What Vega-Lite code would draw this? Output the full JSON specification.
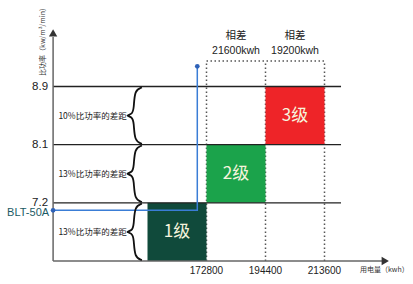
{
  "$schema": "https://vega.github.io/schema/vega-lite/v6.json",
  "width": 413,
  "height": 284,
  "autosize": {"type": "fit", "contains": "padding"},
  "padding": 0,
  "background": "white",
  "config": {"view": {"stroke": null}},
  "datasets": {
    "bars": [
      {"level": "1级", "x0": 1, "x1": 2, "y0": 0, "y1": 1, "xc": 1.5, "yc": 0.5},
      {"level": "2级", "x0": 2, "x1": 3, "y0": 1, "y1": 2, "xc": 2.5, "yc": 1.5},
      {"level": "3级", "x0": 3, "x1": 4, "y0": 2, "y1": 3, "xc": 3.5, "yc": 2.5}
    ],
    "yticks": [
      {"pos": 1, "label": "7.2"},
      {"pos": 2, "label": "8.1"},
      {"pos": 3, "label": "8.9"}
    ],
    "xticks": [
      {"pos": 2, "label": "172800"},
      {"pos": 3, "label": "194400"},
      {"pos": 4, "label": "213600"}
    ],
    "gaps": [
      {"pos": 0.5, "label": "13%比功率的差距"},
      {"pos": 1.5, "label": "13%比功率的差距"},
      {"pos": 2.5, "label": "10%比功率的差距"}
    ],
    "diffs": [
      {"pos": 2.5, "lines": ["相差", "21600kwh"]},
      {"pos": 3.5, "lines": ["相差", "19200kwh"]}
    ],
    "blt": [
      {"i": 0, "x": -0.6, "y": 0.872},
      {"i": 1, "x": 1.844, "y": 0.872},
      {"i": 2, "x": 1.844, "y": 3.347}
    ],
    "bltdots": [
      {"x": -0.6, "y": 0.872},
      {"x": 1.844, "y": 3.347}
    ],
    "braces": [
      {"b": 0, "i": 0, "x": 0.905, "y": 0.985},
      {"b": 0, "i": 1, "x": 0.78, "y": 0.94},
      {"b": 0, "i": 2, "x": 0.77, "y": 0.62},
      {"b": 0, "i": 3, "x": 0.74, "y": 0.52},
      {"b": 0, "i": 4, "x": 0.62, "y": 0.5},
      {"b": 0, "i": 5, "x": 0.74, "y": 0.48},
      {"b": 0, "i": 6, "x": 0.77, "y": 0.38},
      {"b": 0, "i": 7, "x": 0.78, "y": 0.06},
      {"b": 0, "i": 8, "x": 0.905, "y": 0.015},
      {"b": 1, "i": 0, "x": 0.905, "y": 1.985},
      {"b": 1, "i": 1, "x": 0.78, "y": 1.94},
      {"b": 1, "i": 2, "x": 0.77, "y": 1.62},
      {"b": 1, "i": 3, "x": 0.74, "y": 1.52},
      {"b": 1, "i": 4, "x": 0.62, "y": 1.5},
      {"b": 1, "i": 5, "x": 0.74, "y": 1.48},
      {"b": 1, "i": 6, "x": 0.77, "y": 1.38},
      {"b": 1, "i": 7, "x": 0.78, "y": 1.06},
      {"b": 1, "i": 8, "x": 0.905, "y": 1.015},
      {"b": 2, "i": 0, "x": 0.905, "y": 2.985},
      {"b": 2, "i": 1, "x": 0.78, "y": 2.94},
      {"b": 2, "i": 2, "x": 0.77, "y": 2.62},
      {"b": 2, "i": 3, "x": 0.74, "y": 2.52},
      {"b": 2, "i": 4, "x": 0.62, "y": 2.5},
      {"b": 2, "i": 5, "x": 0.74, "y": 2.48},
      {"b": 2, "i": 6, "x": 0.77, "y": 2.38},
      {"b": 2, "i": 7, "x": 0.78, "y": 2.06},
      {"b": 2, "i": 8, "x": 0.905, "y": 2.015}
    ],
    "one": [{}]
  },
  "layer": [
    {
      "data": {"name": "xticks"},
      "mark": {"type": "rule", "color": "#555555", "strokeWidth": 1.5, "strokeDash": [1.5, 2.5]},
      "encoding": {
        "x": {"field": "pos", "type": "quantitative", "scale": {"domain": [-1.5, 5.5], "nice": false, "zero": false}, "axis": null},
        "y": {"datum": 0, "type": "quantitative", "scale": {"domain": [-0.395, 4.487], "nice": false, "zero": false}, "axis": null},
        "y2": {"datum": 3.44}
      }
    },
    {
      "data": {"name": "one"},
      "mark": {"type": "rule", "color": "#555555", "strokeWidth": 1.5, "strokeDash": [1.5, 2.5]},
      "encoding": {
        "x": {"datum": 2, "type": "quantitative", "scale": {"domain": [-1.5, 5.5], "nice": false, "zero": false}, "axis": null},
        "x2": {"datum": 4},
        "y": {"datum": 3.44, "type": "quantitative", "scale": {"domain": [-0.395, 4.487], "nice": false, "zero": false}, "axis": null}
      }
    },
    {
      "data": {"name": "bars"},
      "mark": {"type": "rect"},
      "encoding": {
        "x": {"field": "x0", "type": "quantitative", "scale": {"domain": [-1.5, 5.5], "nice": false, "zero": false}, "axis": null},
        "x2": {"field": "x1"},
        "y": {"field": "y0", "type": "quantitative", "scale": {"domain": [-0.395, 4.487], "nice": false, "zero": false}, "axis": null},
        "y2": {"field": "y1"},
        "color": {"field": "level", "type": "nominal", "scale": {"domain": ["1级", "2级", "3级"], "range": ["#104a3b", "#1ba34b", "#ee2428"]}, "legend": null}
      }
    },
    {
      "data": {"name": "bars"},
      "mark": {"type": "text", "color": "#f6f4de", "fontSize": 17, "font": "Noto Sans CJK SC", "align": "center", "baseline": "middle"},
      "encoding": {
        "x": {"field": "xc", "type": "quantitative", "scale": {"domain": [-1.5, 5.5], "nice": false, "zero": false}, "axis": null},
        "y": {"field": "yc", "type": "quantitative", "scale": {"domain": [-0.395, 4.487], "nice": false, "zero": false}, "axis": null},
        "text": {"field": "level"}
      }
    },
    {
      "data": {"name": "yticks"},
      "mark": {"type": "rule", "color": "#222222", "strokeWidth": 1.3},
      "encoding": {
        "x": {"datum": -0.6, "type": "quantitative", "scale": {"domain": [-1.5, 5.5], "nice": false, "zero": false}, "axis": null},
        "x2": {"datum": 4.28},
        "y": {"field": "pos", "type": "quantitative", "scale": {"domain": [-0.395, 4.487], "nice": false, "zero": false}, "axis": null}
      }
    },
    {
      "data": {"name": "one"},
      "mark": {"type": "rule", "color": "#666666", "strokeWidth": 1.5},
      "encoding": {
        "x": {"datum": -0.6, "type": "quantitative", "scale": {"domain": [-1.5, 5.5], "nice": false, "zero": false}, "axis": null},
        "y": {"datum": 0, "type": "quantitative", "scale": {"domain": [-0.395, 4.487], "nice": false, "zero": false}, "axis": null},
        "y2": {"datum": 3.85}
      }
    },
    {
      "data": {"name": "one"},
      "mark": {"type": "rule", "color": "#666666", "strokeWidth": 1.5},
      "encoding": {
        "x": {"datum": -0.6, "type": "quantitative", "scale": {"domain": [-1.5, 5.5], "nice": false, "zero": false}, "axis": null},
        "x2": {"datum": 4.98},
        "y": {"datum": 0, "type": "quantitative", "scale": {"domain": [-0.395, 4.487], "nice": false, "zero": false}, "axis": null}
      }
    },
    {
      "data": {"name": "one"},
      "mark": {"type": "point", "shape": "triangle-up", "filled": true, "color": "#333333", "size": 70, "opacity": 1},
      "encoding": {
        "x": {"datum": -0.6, "type": "quantitative", "scale": {"domain": [-1.5, 5.5], "nice": false, "zero": false}, "axis": null},
        "y": {"datum": 3.92, "type": "quantitative", "scale": {"domain": [-0.395, 4.487], "nice": false, "zero": false}, "axis": null}
      }
    },
    {
      "data": {"name": "one"},
      "mark": {"type": "point", "shape": "triangle-right", "filled": true, "color": "#333333", "size": 70, "opacity": 1},
      "encoding": {
        "x": {"datum": 5.03, "type": "quantitative", "scale": {"domain": [-1.5, 5.5], "nice": false, "zero": false}, "axis": null},
        "y": {"datum": 0, "type": "quantitative", "scale": {"domain": [-0.395, 4.487], "nice": false, "zero": false}, "axis": null}
      }
    },
    {
      "data": {"name": "blt"},
      "mark": {"type": "line", "color": "#3a7dd6", "strokeWidth": 1.5},
      "encoding": {
        "x": {"field": "x", "type": "quantitative", "scale": {"domain": [-1.5, 5.5], "nice": false, "zero": false}, "axis": null},
        "y": {"field": "y", "type": "quantitative", "scale": {"domain": [-0.395, 4.487], "nice": false, "zero": false}, "axis": null},
        "order": {"field": "i"}
      }
    },
    {
      "data": {"name": "bltdots"},
      "mark": {"type": "point", "filled": true, "color": "#2f62b8", "size": 22, "opacity": 1},
      "encoding": {
        "x": {"field": "x", "type": "quantitative", "scale": {"domain": [-1.5, 5.5], "nice": false, "zero": false}, "axis": null},
        "y": {"field": "y", "type": "quantitative", "scale": {"domain": [-0.395, 4.487], "nice": false, "zero": false}, "axis": null}
      }
    },
    {
      "data": {"name": "braces"},
      "mark": {"type": "line", "color": "#111111", "strokeWidth": 1.8, "interpolate": "basis"},
      "encoding": {
        "x": {"field": "x", "type": "quantitative", "scale": {"domain": [-1.5, 5.5], "nice": false, "zero": false}, "axis": null},
        "y": {"field": "y", "type": "quantitative", "scale": {"domain": [-0.395, 4.487], "nice": false, "zero": false}, "axis": null},
        "detail": {"field": "b"},
        "order": {"field": "i"}
      }
    },
    {
      "data": {"name": "gaps"},
      "mark": {"type": "text", "color": "#222222", "fontSize": 8.5, "font": "Noto Sans CJK SC", "align": "center", "baseline": "middle"},
      "encoding": {
        "x": {"datum": 0.068, "type": "quantitative", "scale": {"domain": [-1.5, 5.5], "nice": false, "zero": false}, "axis": null},
        "y": {"field": "pos", "type": "quantitative", "scale": {"domain": [-0.395, 4.487], "nice": false, "zero": false}, "axis": null},
        "text": {"field": "label"}
      }
    },
    {
      "data": {"name": "yticks"},
      "mark": {"type": "text", "color": "#222222", "fontSize": 11.5, "font": "Liberation Sans", "align": "right", "baseline": "middle", "dx": -5},
      "encoding": {
        "x": {"datum": -0.6, "type": "quantitative", "scale": {"domain": [-1.5, 5.5], "nice": false, "zero": false}, "axis": null},
        "y": {"field": "pos", "type": "quantitative", "scale": {"domain": [-0.395, 4.487], "nice": false, "zero": false}, "axis": null},
        "text": {"field": "label"}
      }
    },
    {
      "data": {"name": "one"},
      "mark": {"type": "text", "color": "#1b5a64", "fontSize": 11, "font": "Liberation Sans", "align": "right", "baseline": "middle", "dx": -4, "dy": 3, "text": "BLT-50A"},
      "encoding": {
        "x": {"datum": -0.6, "type": "quantitative", "scale": {"domain": [-1.5, 5.5], "nice": false, "zero": false}, "axis": null},
        "y": {"datum": 0.872, "type": "quantitative", "scale": {"domain": [-0.395, 4.487], "nice": false, "zero": false}, "axis": null}
      }
    },
    {
      "data": {"name": "xticks"},
      "mark": {"type": "text", "color": "#222222", "fontSize": 10, "font": "Liberation Sans", "align": "center", "baseline": "middle"},
      "encoding": {
        "x": {"field": "pos", "type": "quantitative", "scale": {"domain": [-1.5, 5.5], "nice": false, "zero": false}, "axis": null},
        "y": {"datum": -0.167, "type": "quantitative", "scale": {"domain": [-0.395, 4.487], "nice": false, "zero": false}, "axis": null},
        "text": {"field": "label"}
      }
    },
    {
      "data": {"name": "one"},
      "mark": {"type": "text", "color": "#333333", "fontSize": 7, "font": "Noto Sans CJK SC", "align": "left", "baseline": "middle", "text": "用电量（kwh）"},
      "encoding": {
        "x": {"datum": 4.6, "type": "quantitative", "scale": {"domain": [-1.5, 5.5], "nice": false, "zero": false}, "axis": null},
        "y": {"datum": -0.155, "type": "quantitative", "scale": {"domain": [-0.395, 4.487], "nice": false, "zero": false}, "axis": null}
      }
    },
    {
      "data": {"name": "one"},
      "mark": {"type": "text", "color": "#333333", "fontSize": 7, "font": "Noto Sans CJK SC", "align": "center", "baseline": "middle", "angle": 270, "text": "比功率（kw/m³/min）"},
      "encoding": {
        "x": {"datum": -0.77, "type": "quantitative", "scale": {"domain": [-1.5, 5.5], "nice": false, "zero": false}, "axis": null},
        "y": {"datum": 3.8, "type": "quantitative", "scale": {"domain": [-0.395, 4.487], "nice": false, "zero": false}, "axis": null}
      }
    },
    {
      "data": {"name": "diffs"},
      "mark": {"type": "text", "color": "#222222", "fontSize": 10.5, "font": "Liberation Sans, Noto Sans CJK SC", "align": "center", "baseline": "middle", "lineHeight": 15},
      "encoding": {
        "x": {"field": "pos", "type": "quantitative", "scale": {"domain": [-1.5, 5.5], "nice": false, "zero": false}, "axis": null},
        "y": {"datum": 3.87, "type": "quantitative", "scale": {"domain": [-0.395, 4.487], "nice": false, "zero": false}, "axis": null},
        "text": {"field": "lines"}
      }
    }
  ]
}
